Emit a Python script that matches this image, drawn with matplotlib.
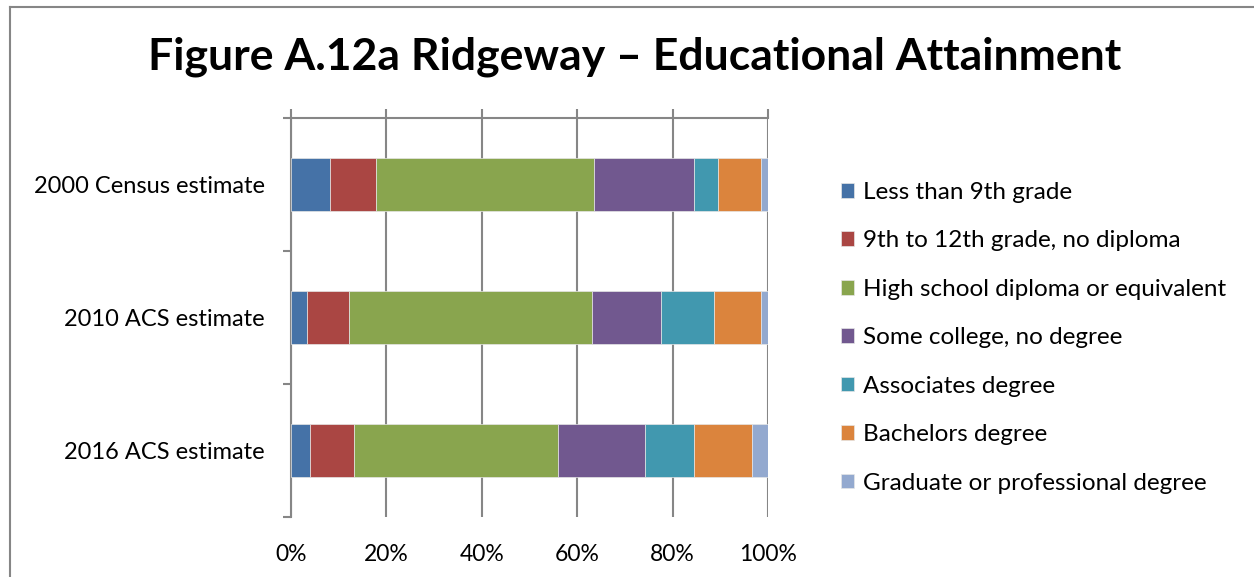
import matplotlib.pyplot as plt
import matplotlib.lines as mlines
import numpy as np

plt.rcParams['font.family'] = ['Lato', 'DejaVu Sans']

# dados (percentuais)
categorias = ["2000 Census estimate", "2010 ACS estimate", "2016 ACS estimate"]
niveis = ["Less than 9th grade", "9th to 12th grade, no diploma",
          "High school diploma or equivalent", "Some college, no degree",
          "Associates degree", "Bachelors degree", "Graduate or professional degree"]
menos_9 = [8.2, 3.4, 4.0]
de_9_a_12 = [9.7, 8.7, 9.2]
ensino_medio = [45.7, 50.9, 42.7]
algum_college = [20.9, 14.6, 18.4]
associates = [5.0, 11.0, 10.1]
bachelors = [9.1, 9.9, 12.3]
graduate = [1.4, 1.6, 3.3]
cores = ["#4572A7", "#AA4643", "#89A54E", "#71588F", "#4198AF", "#DB843D", "#93A9CF"]

series = [menos_9, de_9_a_12, ensino_medio, algum_college, associates, bachelors, graduate]

fig = plt.figure(figsize=(12.54, 5.77), dpi=100)
ax = fig.add_axes([291/1254, 1-517/577, 477/1254, 399/577])

y = np.arange(len(categorias))
esquerda = np.zeros(len(categorias))
for vals, cor, nome in zip(series, cores, niveis):
    ax.barh(y, vals, left=esquerda, height=0.4, color=cor, label=nome,
            edgecolor="#e6e6e6", linewidth=0.5, zorder=3)
    esquerda += np.array(vals)

ax.set_xlim(0, 100)
ax.set_ylim(2.5, -0.5)
ax.set_xticks(np.arange(0, 101, 20))
ax.set_xticklabels([f"{v}%" for v in range(0, 101, 20)], fontsize=16.5)
ax.grid(axis="x", color="#868686", linewidth=1.5, zorder=1)

for s in ["bottom", "right"]:
    ax.spines[s].set_visible(False)
for s in ["top", "left"]:
    ax.spines[s].set_color("#868686")
    ax.spines[s].set_linewidth(1.5)

ax.tick_params(axis="x", top=True, bottom=False, labelbottom=True, labeltop=False,
               direction="out", length=6.5, width=1.5, color="#868686", pad=13)
ax.set_yticks(y)
ax.set_yticklabels(categorias, fontsize=17)
ax.tick_params(axis="y", which="major", length=0, pad=19)
ax.set_yticks([-0.5, 0.5, 1.5, 2.5], minor=True)
ax.tick_params(axis="y", which="minor", direction="out", length=6, width=1.5, color="#868686")

fig.text(635/1254, 1-57/577, "Figure A.12a Ridgeway \u2013 Educational Attainment",
         ha="center", va="center", fontsize=32, fontweight="bold")

ax.legend(loc="upper left", bbox_to_anchor=(819/1254, 1-160/577),
          bbox_transform=fig.transFigure, frameon=False, fontsize=17.5,
          handlelength=0.55, handleheight=0.55, handletextpad=0.35, labelspacing=1.13)

# borda do grafico
fig.add_artist(mlines.Line2D([10/1254, 10/1254], [0, 1-7/577], color="#868686", lw=1.5))
fig.add_artist(mlines.Line2D([10/1254, 1], [1-7/577, 1-7/577], color="#868686", lw=1.5))

fig.savefig("out.png", dpi=100)
